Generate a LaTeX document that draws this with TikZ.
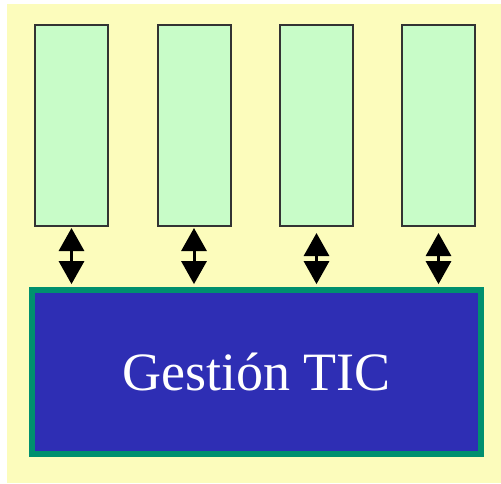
\documentclass[tikz,border=0pt]{standalone}
\usepackage{fontspec}
\setmainfont{Liberation Serif}
\usetikzlibrary{arrows.meta}
\definecolor{bgyellow}{HTML}{FCFCBC}
\definecolor{boxgreen}{HTML}{C8FCC8}
\definecolor{boxedge}{HTML}{333333}
\definecolor{ticblue}{HTML}{2E2EB4}
\definecolor{ticedge}{HTML}{00906E}
\tikzset{
  unitbox/.style={draw=boxedge, fill=boxgreen, line width=2pt, inner sep=0pt,
    minimum width=73pt, minimum height=201pt},
  ticbox/.style={draw=ticedge, fill=ticblue, line width=5.7pt, inner sep=0pt,
    minimum width=449pt, minimum height=164pt, text=white, font=\fontsize{54}{60}\selectfont},
  link/.style={line width=3pt, {Triangle[length=23pt,width=25pt]}-{Triangle[length=23pt,width=25pt]}, shorten >=3pt}
}
\begin{document}
\begin{tikzpicture}[x=1pt,y=-1pt]
\useasboundingbox (0,0) rectangle (501,483);
\fill[bgyellow] (7,4) rectangle (501,483);
\node[unitbox] (b1) at (71.5,125.5) {};
\node[unitbox] (b2) at (194,125.5) {};
\node[unitbox] (b3) at (316.5,125.5) {};
\node[unitbox] (b4) at (438.5,125.5) {};
\node[ticbox] (g) at (256.5,372) {Gestión TIC};
\draw[link, shorten <=1pt] (b1.south) -- (b1.south |- g.north);
\draw[link, shorten <=1pt] (b2.south) -- (b2.south |- g.north);
\draw[link, shorten <=6pt] (b3.south) -- (b3.south |- g.north);
\draw[link, shorten <=6pt] (b4.south) -- (b4.south |- g.north);
\end{tikzpicture}
\end{document}
